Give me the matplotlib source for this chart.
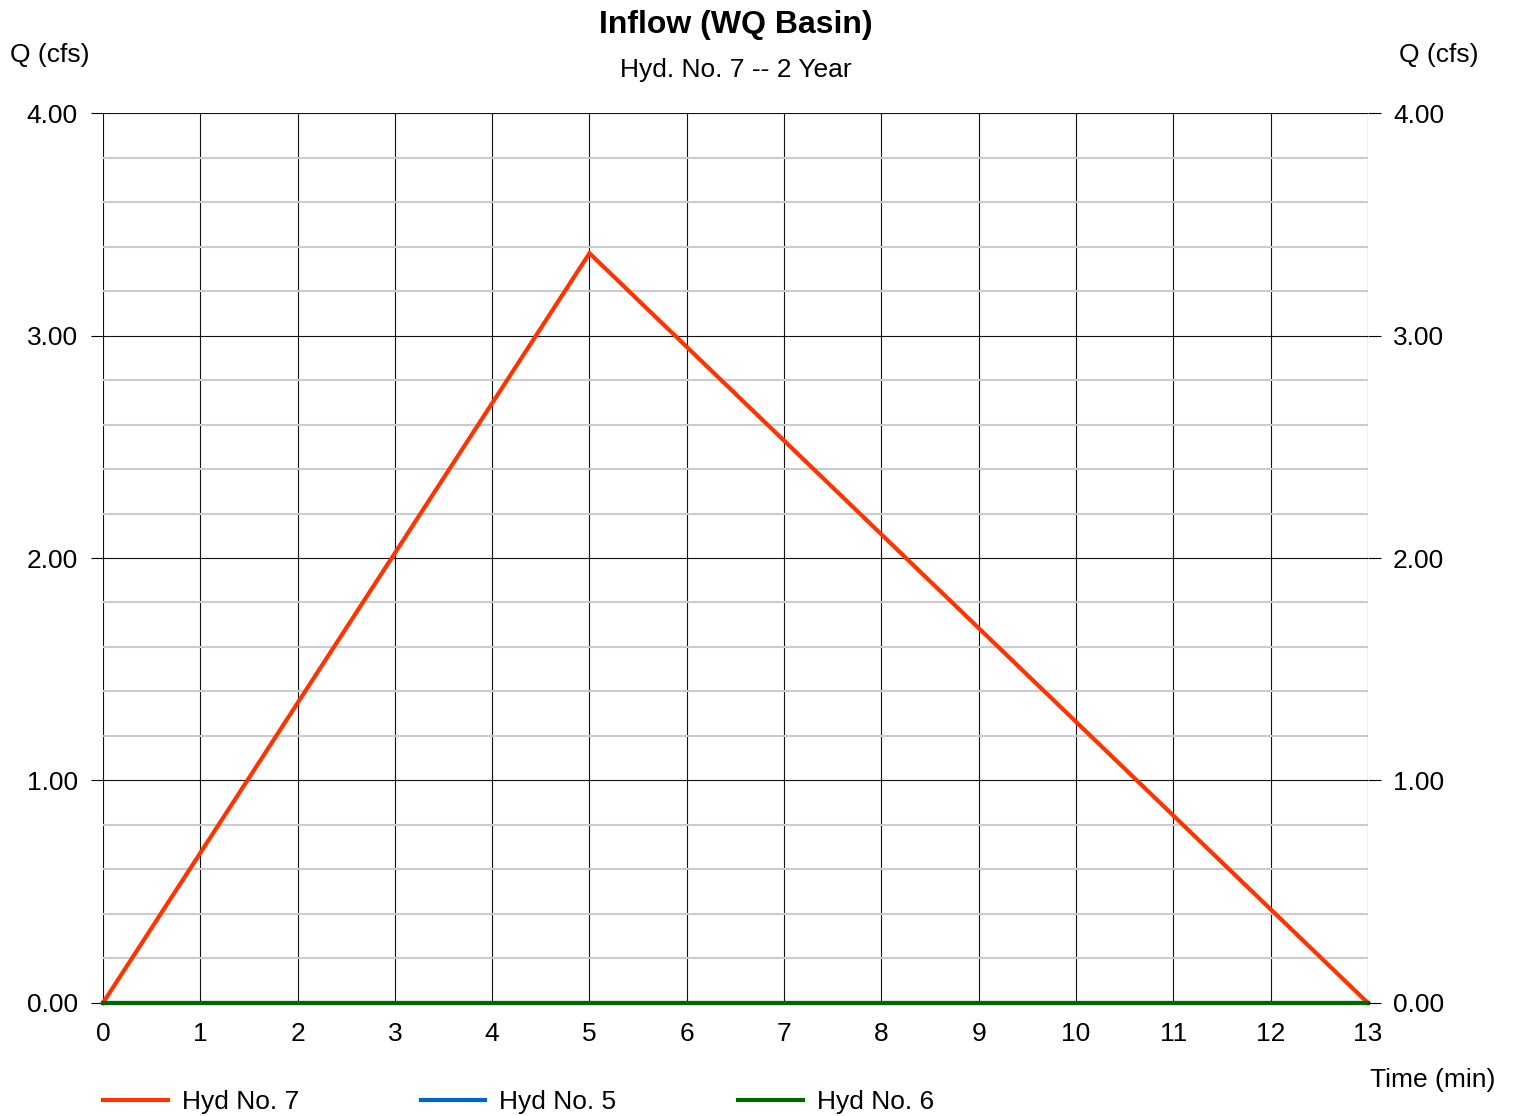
import numpy as np
import matplotlib.pyplot as plt
from matplotlib.ticker import MultipleLocator

plt.rcParams['font.family'] = ['Liberation Sans', 'DejaVu Sans']

# data
time_min = [0, 5, 13]
hyd7 = [0.0, 3.37, 0.0]
hyd5 = [0.0, 0.0, 0.0]
hyd6 = [0.0, 0.0, 0.0]
yticks = [0.0, 1.0, 2.0, 3.0, 4.0]
xticks = list(range(0, 14))

fig = plt.figure(figsize=(15.14, 11.16), dpi=100)
ax = fig.add_axes([0.068, 0.1013, 0.8355, 0.7974])

ax.set_xlim(0, 13)
ax.set_ylim(0, 4)

# grid: grey minor every 0.2, black major
ax.yaxis.set_minor_locator(MultipleLocator(0.2))
ax.grid(True, which='minor', axis='y', color='#cccccc', lw=1.5, zorder=0)
ax.grid(True, which='major', axis='both', color='#111111', lw=0.8, zorder=1)
ax.set_axisbelow(True)

ax.plot(time_min, hyd7, color='#ff3300', lw=3, label='Hyd No. 7', zorder=3,
        solid_joinstyle='miter', clip_on=False)
ax.plot(time_min, hyd5, color='#0066cc', lw=3, label='Hyd No. 5', zorder=3, clip_on=False)
ax.plot(time_min, hyd6, color='#006600', lw=3, label='Hyd No. 6', zorder=4, clip_on=False)

for s in ax.spines.values():
    s.set_visible(False)

ax.set_xticks(xticks)
ax.set_yticks(yticks)
ax.set_yticklabels([f'{v:.2f}' for v in yticks])
ax.tick_params(axis='x', length=0, pad=14, labelsize=19)
ax.tick_params(axis='y', which='major', length=9, width=0.8, pad=9, labelsize=19)
ax.tick_params(axis='y', which='minor', length=0)

ax2 = ax.twinx()
ax2.set_ylim(0, 4)
ax2.set_yticks(yticks)
ax2.set_yticklabels([f'{v:.2f}' for v in yticks])
ax2.tick_params(axis='y', length=9, width=0.8, pad=9, labelsize=19)
for s in ax2.spines.values():
    s.set_visible(False)

fig.text(0.486, 0.978, 'Inflow (WQ Basin)', ha='center', va='center', fontsize=23, fontweight='bold')
fig.text(0.486, 0.937, 'Hyd. No. 7 -- 2 Year', ha='center', va='center', fontsize=19)
fig.text(0.033, 0.951, 'Q (cfs)', ha='center', va='center', fontsize=19)
fig.text(0.950, 0.951, 'Q (cfs)', ha='center', va='center', fontsize=19)
fig.text(0.946, 0.032, 'Time (min)', ha='center', va='center', fontsize=19)

fig.legend(loc='center left', bbox_to_anchor=(0.068, 0.0125), ncol=3, frameon=False,
           fontsize=19, handlelength=2.45, handletextpad=0.53, columnspacing=4.62,
           borderpad=0, borderaxespad=0)

fig.savefig('out.png', dpi=100)
